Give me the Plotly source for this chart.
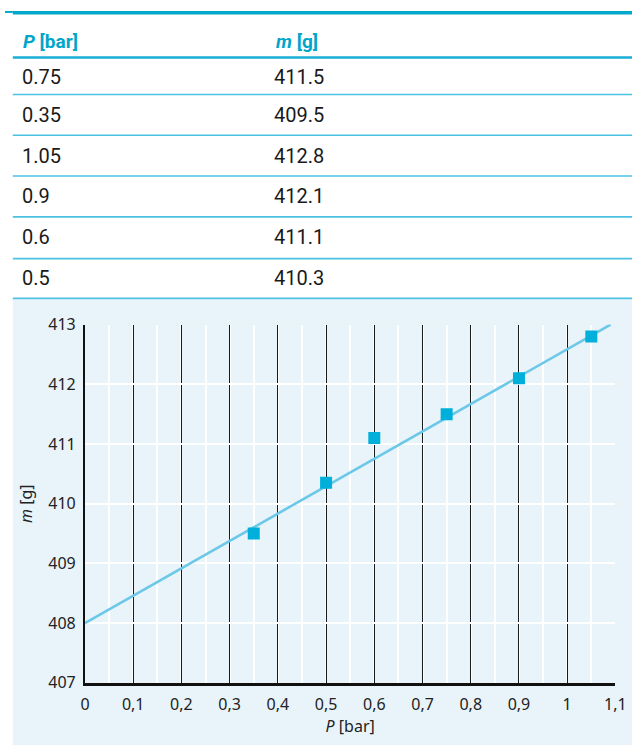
import plotly.graph_objects as go

W, H = 643, 756

# ---- data ----
table_P = ["0.75", "0.35", "1.05", "0.9", "0.6", "0.5"]
table_m = ["411.5", "409.5", "412.8", "412.1", "411.1", "410.3"]
pts_P = [0.35, 0.5, 0.6, 0.75, 0.9, 1.05]
pts_m = [409.5, 410.35, 411.1, 411.5, 412.1, 412.8]
fit_P = [0.0, 1.09]
fit_m = [408.0, 413.0]
x_ticks = [0, 0.1, 0.2, 0.3, 0.4, 0.5, 0.6, 0.7, 0.8, 0.9, 1.0, 1.1]
y_ticks = [407, 408, 409, 410, 411, 412, 413]

def px(x):
    return x / W

def py(y):
    return 1 - y / H

fig = go.Figure()
fig.add_trace(go.Scatter(x=fit_P, y=fit_m, mode="lines",
                         line=dict(color="#6CC8E8", width=2.6),
                         hoverinfo="skip", showlegend=False))
fig.add_trace(go.Scatter(x=pts_P, y=pts_m, mode="markers",
                         marker=dict(symbol="square", size=12, color="#00AFDA"),
                         showlegend=False))

shapes = []
# chart background panel
shapes.append(dict(type="rect", xref="paper", yref="paper",
                   x0=px(8), x1=1, y0=0, y1=py(297),
                   fillcolor="#E8F4FA", line=dict(width=0), layer="below"))
# top thick rule
shapes.append(dict(type="rect", xref="paper", yref="paper",
                   x0=px(8), x1=1, y0=py(3.5), y1=1,
                   fillcolor="#00A8CC", line=dict(width=0)))
shapes.append(dict(type="rect", xref="paper", yref="paper",
                   x0=0, x1=px(8), y0=py(2), y1=1,
                   fillcolor="#00A8CC", line=dict(width=0)))
# header underline
shapes.append(dict(type="line", xref="paper", yref="paper",
                   x0=px(8), x1=1, y0=py(48), y1=py(48),
                   line=dict(color="#1AAED6", width=2.5)))
row_lines = [86, 128, 170, 212, 255, 296]
for yl in row_lines:
    shapes.append(dict(type="line", xref="paper", yref="paper",
                       x0=px(8), x1=1, y0=py(yl), y1=py(yl),
                       line=dict(color="#4CC2E2", width=1.6)))

annotations = []
hdr_font = dict(family="Roboto", size=19, color="#00A6C9")
annotations.append(dict(text="<b><i>P</i> [bar]</b>", x=px(16), y=py(31), xref="paper", yref="paper",
                        xanchor="left", yanchor="middle", showarrow=False, font=hdr_font))
annotations.append(dict(text="<b><i>m</i> [g]</b>", x=px(276), y=py(31), xref="paper", yref="paper",
                        xanchor="left", yanchor="middle", showarrow=False, font=hdr_font))
row_y = [68, 107, 149, 191, 233, 275]
cell_font = dict(family="Roboto", size=20, color="#1A1A1A")
for yy, a, b in zip(row_y, table_P, table_m):
    annotations.append(dict(text=a, x=px(15), y=py(yy), xref="paper", yref="paper",
                            xanchor="left", yanchor="middle", showarrow=False, font=cell_font))
    annotations.append(dict(text=b, x=px(274), y=py(yy), xref="paper", yref="paper",
                            xanchor="left", yanchor="middle", showarrow=False, font=cell_font))

fig.update_layout(
    autosize=True,
    margin=dict(l=0, r=0, t=0, b=0),
    paper_bgcolor="white",
    plot_bgcolor="#E8F4FA",
    separators=", ",
    font=dict(family="Noto Sans", size=16, color="#222222"),
    shapes=shapes,
    annotations=annotations,
    xaxis=dict(
        domain=[px(82), px(626)],
        range=[0, 1.1],
        tickvals=x_ticks,
        showgrid=True, gridcolor="#1A1A1A", gridwidth=1.2,
        minor=dict(dtick=0.05, tick0=0, showgrid=True, gridcolor="white", gridwidth=1.8),
        showline=True, linecolor="#111111", linewidth=2.5,
        zeroline=False, ticks="", ticklabelstandoff=5,
        tickfont=dict(size=16, color="#222222"),
        title=dict(text="<i>P</i> [bar]", font=dict(size=16, color="#222222"), standoff=0),
        fixedrange=True,
    ),
    yaxis=dict(
        domain=[py(692), py(323)],
        range=[407, 413],
        tickvals=y_ticks,
        showgrid=True, gridcolor="white", gridwidth=2,
        showline=True, linecolor="#111111", linewidth=2,
        zeroline=False, ticks="", ticklabelstandoff=4,
        tickfont=dict(size=16, color="#222222"),
        title=dict(text="<i>m</i> [g]", font=dict(size=16, color="#222222"), standoff=12),
        fixedrange=True,
    ),
)

fig.write_html(
    "out.html",
    config={"displayModeBar": False},
    default_width="100vw",
    default_height="100vh",
    post_script=(
        "document.documentElement.style.margin='0';"
        "document.documentElement.style.overflow='hidden';"
        "document.body.style.margin='0';"
        "document.body.style.overflow='hidden';"
    ),
)
